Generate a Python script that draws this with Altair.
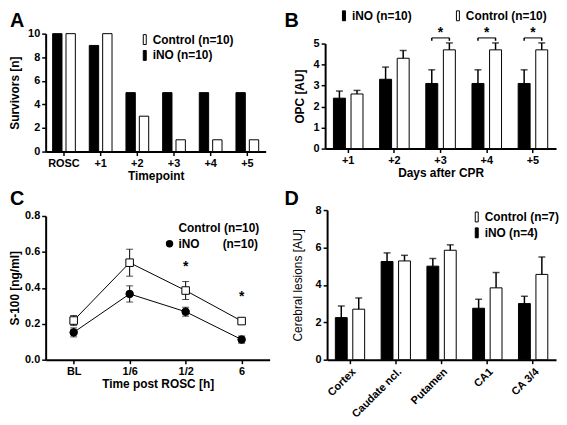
import altair as alt
import pandas as pd

FONT = "Liberation Sans"

# ---------------- Panel A: survivors ----------------
a_times = ["ROSC", "+1", "+2", "+3", "+4", "+5"]
a_ino = [10, 9, 5, 5, 5, 5]
a_ctrl = [10, 10, 3, 1, 1, 1]
a_groups = ["iNO (n=10)", "Control (n=10)"]

# ---------------- Panel B: OPC ----------------
b_days = ["+1", "+2", "+3", "+4", "+5"]
b_ino = [2.4, 3.3, 3.1, 3.1, 3.1]
b_ino_sem = [0.34, 0.58, 0.65, 0.65, 0.65]
b_ctrl = [2.6, 4.3, 4.7, 4.7, 4.7]
b_ctrl_sem = [0.17, 0.37, 0.33, 0.33, 0.33]
b_sig = ["+3", "+4", "+5"]
b_groups = ["iNO (n=10)", "Control (n=10)"]

# ---------------- Panel C: S-100 ----------------
c_times = ["BL", "1/6", "1/2", "6"]
c_ctrl = [0.218, 0.54, 0.385, 0.215]
c_ctrl_sem = [0.028, 0.075, 0.05, 0.012]
c_ino = [0.152, 0.366, 0.267, 0.112]
c_ino_sem = [0.025, 0.045, 0.025, 0.02]
c_sig = ["1/2", "6"]
c_sig_y = [0.515, 0.35]
c_groups = ["Control (n=10)", "iNO\u00a0\u00a0\u00a0\u00a0\u00a0\u00a0\u00a0(n=10)"]

# ---------------- Panel D: cerebral lesions ----------------
d_regions = ["Cortex", "Caudate ncl.", "Putamen", "CA1", "CA 3/4"]
d_ino = [2.25, 5.25, 5.0, 2.75, 3.0]
d_ino_sem = [0.62, 0.46, 0.41, 0.48, 0.39]
d_ctrl = [2.7, 5.28, 5.85, 3.84, 4.56]
d_ctrl_sem = [0.6, 0.3, 0.29, 0.82, 0.93]
d_groups = ["iNO (n=4)", "Control (n=7)"]

BOX = "M-0.3,-1H0.3V1H-0.3Z"
H2 = 153


def letter(ch, dx, dy):
    return alt.Chart(alt.Data(values=[{}])).mark_text(
        text=ch, align="left", baseline="top", fontSize=20,
        fontWeight="bold", font=FONT, color="black"
    ).encode(x=alt.value(dx), y=alt.value(dy))


def bar_legend(x, y, direction="vertical", col_pad=10):
    return alt.Legend(
        title=None, orient="none", legendX=x, legendY=y, direction=direction,
        symbolType=BOX, symbolSize=100, symbolStrokeColor="black",
        symbolStrokeWidth=1, labelFontSize=12, labelFontWeight="bold",
        labelFont=FONT, labelColor="black", labelOffset=2, rowPadding=2,
        columnPadding=col_pad, padding=0,
    )


def yaxis(title, values, title_x, fmt=None, weight="bold"):
    kw = dict(title=title, values=values, labelOverlap=False, titleX=title_x,
              titleFontWeight=weight)
    if fmt:
        kw["format"] = fmt
    return alt.Axis(**kw)


# ---------- A ----------
dfA = pd.DataFrame({
    "t": a_times * 2,
    "g": [a_groups[0]] * len(a_times) + [a_groups[1]] * len(a_times),
    "v": a_ino + a_ctrl,
})
xA = alt.X("t:N", sort=a_times,
           scale=alt.Scale(paddingInner=0.38, paddingOuter=0.19),
           axis=alt.Axis(title="Timepoint", labelAngle=0, titlePadding=2))
barsA = alt.Chart(dfA).mark_bar(stroke="black", strokeWidth=1).encode(
    x=xA,
    xOffset=alt.XOffset("g:N", sort=a_groups, scale=alt.Scale(paddingInner=0.3)),
    y=alt.Y("v:Q", scale=alt.Scale(domain=[0, 10], nice=False),
            axis=yaxis("Survivors [n]", [0, 2, 4, 6, 8, 10], -24)),
    fill=alt.Fill("g:N", scale=alt.Scale(domain=[a_groups[1], a_groups[0]],
                                         range=["white", "black"]),
                  legend=bar_legend(94, 0)),
)
A = alt.layer(barsA, letter("A", -36, -23)).properties(width=222, height=119)

# ---------- B ----------
dfB = pd.DataFrame({
    "d": b_days * 2,
    "g": [b_groups[0]] * len(b_days) + [b_groups[1]] * len(b_days),
    "v": b_ino + b_ctrl,
    "s": b_ino_sem + b_ctrl_sem,
})
dfB["hi"] = dfB["v"] + dfB["s"]
axB = yaxis("OPC [AU]", [0, 1, 2, 3, 4, 5], -19)
scB = alt.Scale(domain=[0, 5], nice=False, range=[116, 10])
xB = alt.X("d:N", sort=b_days,
           scale=alt.Scale(paddingInner=0.36, paddingOuter=0.18),
           axis=alt.Axis(title="Days after CPR", labelAngle=0, titlePadding=2))
offB = alt.XOffset("g:N", sort=b_groups, scale=alt.Scale(paddingInner=0.32))
barsB = alt.Chart(dfB).mark_bar(stroke="black", strokeWidth=1).encode(
    x=xB, xOffset=offB, y=alt.Y("v:Q", scale=scB, axis=axB),
    fill=alt.Fill("g:N", scale=alt.Scale(domain=b_groups, range=["black", "white"]),
                  legend=bar_legend(13, -24, "horizontal", 40)),
)
errB = alt.Chart(dfB).mark_rule(color="black", strokeWidth=1.5).encode(
    x=xB, xOffset=offB, y=alt.Y("v:Q", scale=scB, axis=axB), y2="hi:Q")
capB = alt.Chart(dfB).mark_tick(orient="horizontal", color="black", thickness=1.5,
                                size=7).encode(
    x=xB, xOffset=offB, y=alt.Y("hi:Q", scale=scB, axis=axB))
dfBs = pd.DataFrame({"d": b_sig})
dfBse = pd.DataFrame({"d": [d for d in b_sig for _ in b_groups],
                      "g": [g for _ in b_sig for g in b_groups]})
brH = alt.Chart(dfBs).mark_tick(orient="horizontal", color="black", thickness=1.5,
                                size=18).encode(
    x=xB, y=alt.YDatum(5.27, scale=scB, axis=axB))
brV = alt.Chart(dfBse).mark_rule(color="black", strokeWidth=1.5).encode(
    x=xB, xOffset=offB, y=alt.YDatum(5.13, scale=scB, axis=axB),
    y2=alt.Y2Datum(5.27))
starB = alt.Chart(dfBs).mark_text(text="*", fontSize=14, fontWeight="bold",
                                  font=FONT, color="black").encode(
    x=xB, y=alt.YDatum(5.5, scale=scB, axis=axB))
B = alt.layer(barsB, errB, capB, brH, brV, starB, letter("B", -41, -23)).properties(
    width=233, height=116)

# ---------- C ----------
dfC = pd.DataFrame({
    "t": c_times * 2,
    "g": [c_groups[0]] * len(c_times) + [c_groups[1]] * len(c_times),
    "v": c_ctrl + c_ino,
    "s": c_ctrl_sem + c_ino_sem,
})
dfC["lo"] = dfC["v"] - dfC["s"]
dfC["hi"] = dfC["v"] + dfC["s"]
axC = yaxis("S-100 [ng/ml]", [0, 0.2, 0.4, 0.6, 0.8], -24, fmt=".1f")
scC = alt.Scale(domain=[0, 0.8], nice=False, range=[H2, 8])
xC = alt.X("t:N", sort=c_times, scale=alt.Scale(type="point", padding=0.5),
           axis=alt.Axis(title="Time post ROSC [h]", labelAngle=0, titlePadding=2))
legC = alt.Legend(title=None, orient="none", legendX=119, legendY=14,
                  symbolSize=55, symbolStrokeColor="black", symbolStrokeWidth=1,
                  labelFontSize=12, labelFontWeight="bold", labelFont=FONT,
                  labelColor="black", labelOffset=3, rowPadding=4, padding=0)
lineC = alt.Chart(dfC).mark_line(color="black", strokeWidth=1).encode(
    x=xC, y=alt.Y("v:Q", scale=scC, axis=axC), detail="g:N")
errC = alt.Chart(dfC).mark_rule(color="black", strokeWidth=1).encode(
    x=xC, y=alt.Y("lo:Q", scale=scC, axis=axC), y2="hi:Q")
capLoC = alt.Chart(dfC).mark_tick(orient="horizontal", color="black", thickness=1,
                                  size=7).encode(
    x=xC, y=alt.Y("lo:Q", scale=scC, axis=axC))
capHiC = alt.Chart(dfC).mark_tick(orient="horizontal", color="black", thickness=1,
                                  size=7).encode(
    x=xC, y=alt.Y("hi:Q", scale=scC, axis=axC))
ptsC = alt.Chart(dfC).mark_point(stroke="black", strokeWidth=1, opacity=1,
                                 fillOpacity=1, size=58).encode(
    x=xC, y=alt.Y("v:Q", scale=scC, axis=axC),
    shape=alt.Shape("g:N", scale=alt.Scale(domain=c_groups, range=["square", "circle"]),
                    legend=legC),
    fill=alt.Fill("g:N", scale=alt.Scale(domain=c_groups, range=["white", "black"]),
                  legend=legC),
)
dfCs = pd.DataFrame({"t": c_sig, "y": c_sig_y})
starC = alt.Chart(dfCs).mark_text(text="*", fontSize=14, fontWeight="bold",
                                  font=FONT, color="black").encode(
    x=xC, y=alt.Y("y:Q", scale=scC, axis=axC))
C = alt.layer(lineC, errC, capLoC, capHiC, ptsC, starC, letter("C", -36, -19)).properties(
    width=226, height=H2)

# ---------- D ----------
dfD = pd.DataFrame({
    "r": d_regions * 2,
    "g": [d_groups[0]] * len(d_regions) + [d_groups[1]] * len(d_regions),
    "v": d_ino + d_ctrl,
    "s": d_ino_sem + d_ctrl_sem,
})
dfD["hi"] = dfD["v"] + dfD["s"]
axD = yaxis("Cerebral lesions [AU]", [0, 2, 4, 6, 8], -23, weight="normal")
scD = alt.Scale(domain=[0, 8], nice=False, range=[H2, 2])
xD = alt.X("r:N", sort=d_regions,
           scale=alt.Scale(paddingInner=0.36, paddingOuter=0.18),
           axis=alt.Axis(title=None, labelAngle=-45, labelAlign="right",
                         labelBaseline="top"))
offD = alt.XOffset("g:N", sort=d_groups, scale=alt.Scale(paddingInner=0.32))
barsD = alt.Chart(dfD).mark_bar(stroke="black", strokeWidth=1).encode(
    x=xD, xOffset=offD, y=alt.Y("v:Q", scale=scD, axis=axD),
    fill=alt.Fill("g:N", scale=alt.Scale(domain=[d_groups[1], d_groups[0]],
                                         range=["white", "black"]),
                  legend=bar_legend(145, 3)),
)
errD = alt.Chart(dfD).mark_rule(color="black", strokeWidth=1.5).encode(
    x=xD, xOffset=offD, y=alt.Y("v:Q", scale=scD, axis=axD), y2="hi:Q")
capD = alt.Chart(dfD).mark_tick(orient="horizontal", color="black", thickness=1.5,
                                size=7).encode(
    x=xD, xOffset=offD, y=alt.Y("hi:Q", scale=scD, axis=axD))
D = alt.layer(barsD, errD, capD, letter("D", -43, -19)).properties(width=231, height=H2)

res = dict(fill="independent", shape="independent", xOffset="independent")
top = alt.hconcat(A, B, spacing=19).resolve_scale(**res).resolve_legend(
    fill="independent", shape="independent")
bottom = alt.hconcat(C, D, spacing=15).resolve_scale(**res).resolve_legend(
    fill="independent", shape="independent")

chart = alt.vconcat(top, bottom, spacing=8).resolve_scale(**res).resolve_legend(
    fill="independent", shape="independent"
).properties(padding=0).configure_view(stroke=None).configure_axis(
    domainColor="black", domainWidth=2, tickColor="black", tickWidth=1.5,
    tickSize=4, labelColor="black", labelFont=FONT, labelFontSize=11,
    labelFontWeight="bold", titleFont=FONT, titleFontSize=12,
    titleFontWeight="bold", titleColor="black", grid=False, labelPadding=2,
    titlePadding=3,
)

chart.save("out.html", embed_options={"renderer": "svg", "actions": False})
